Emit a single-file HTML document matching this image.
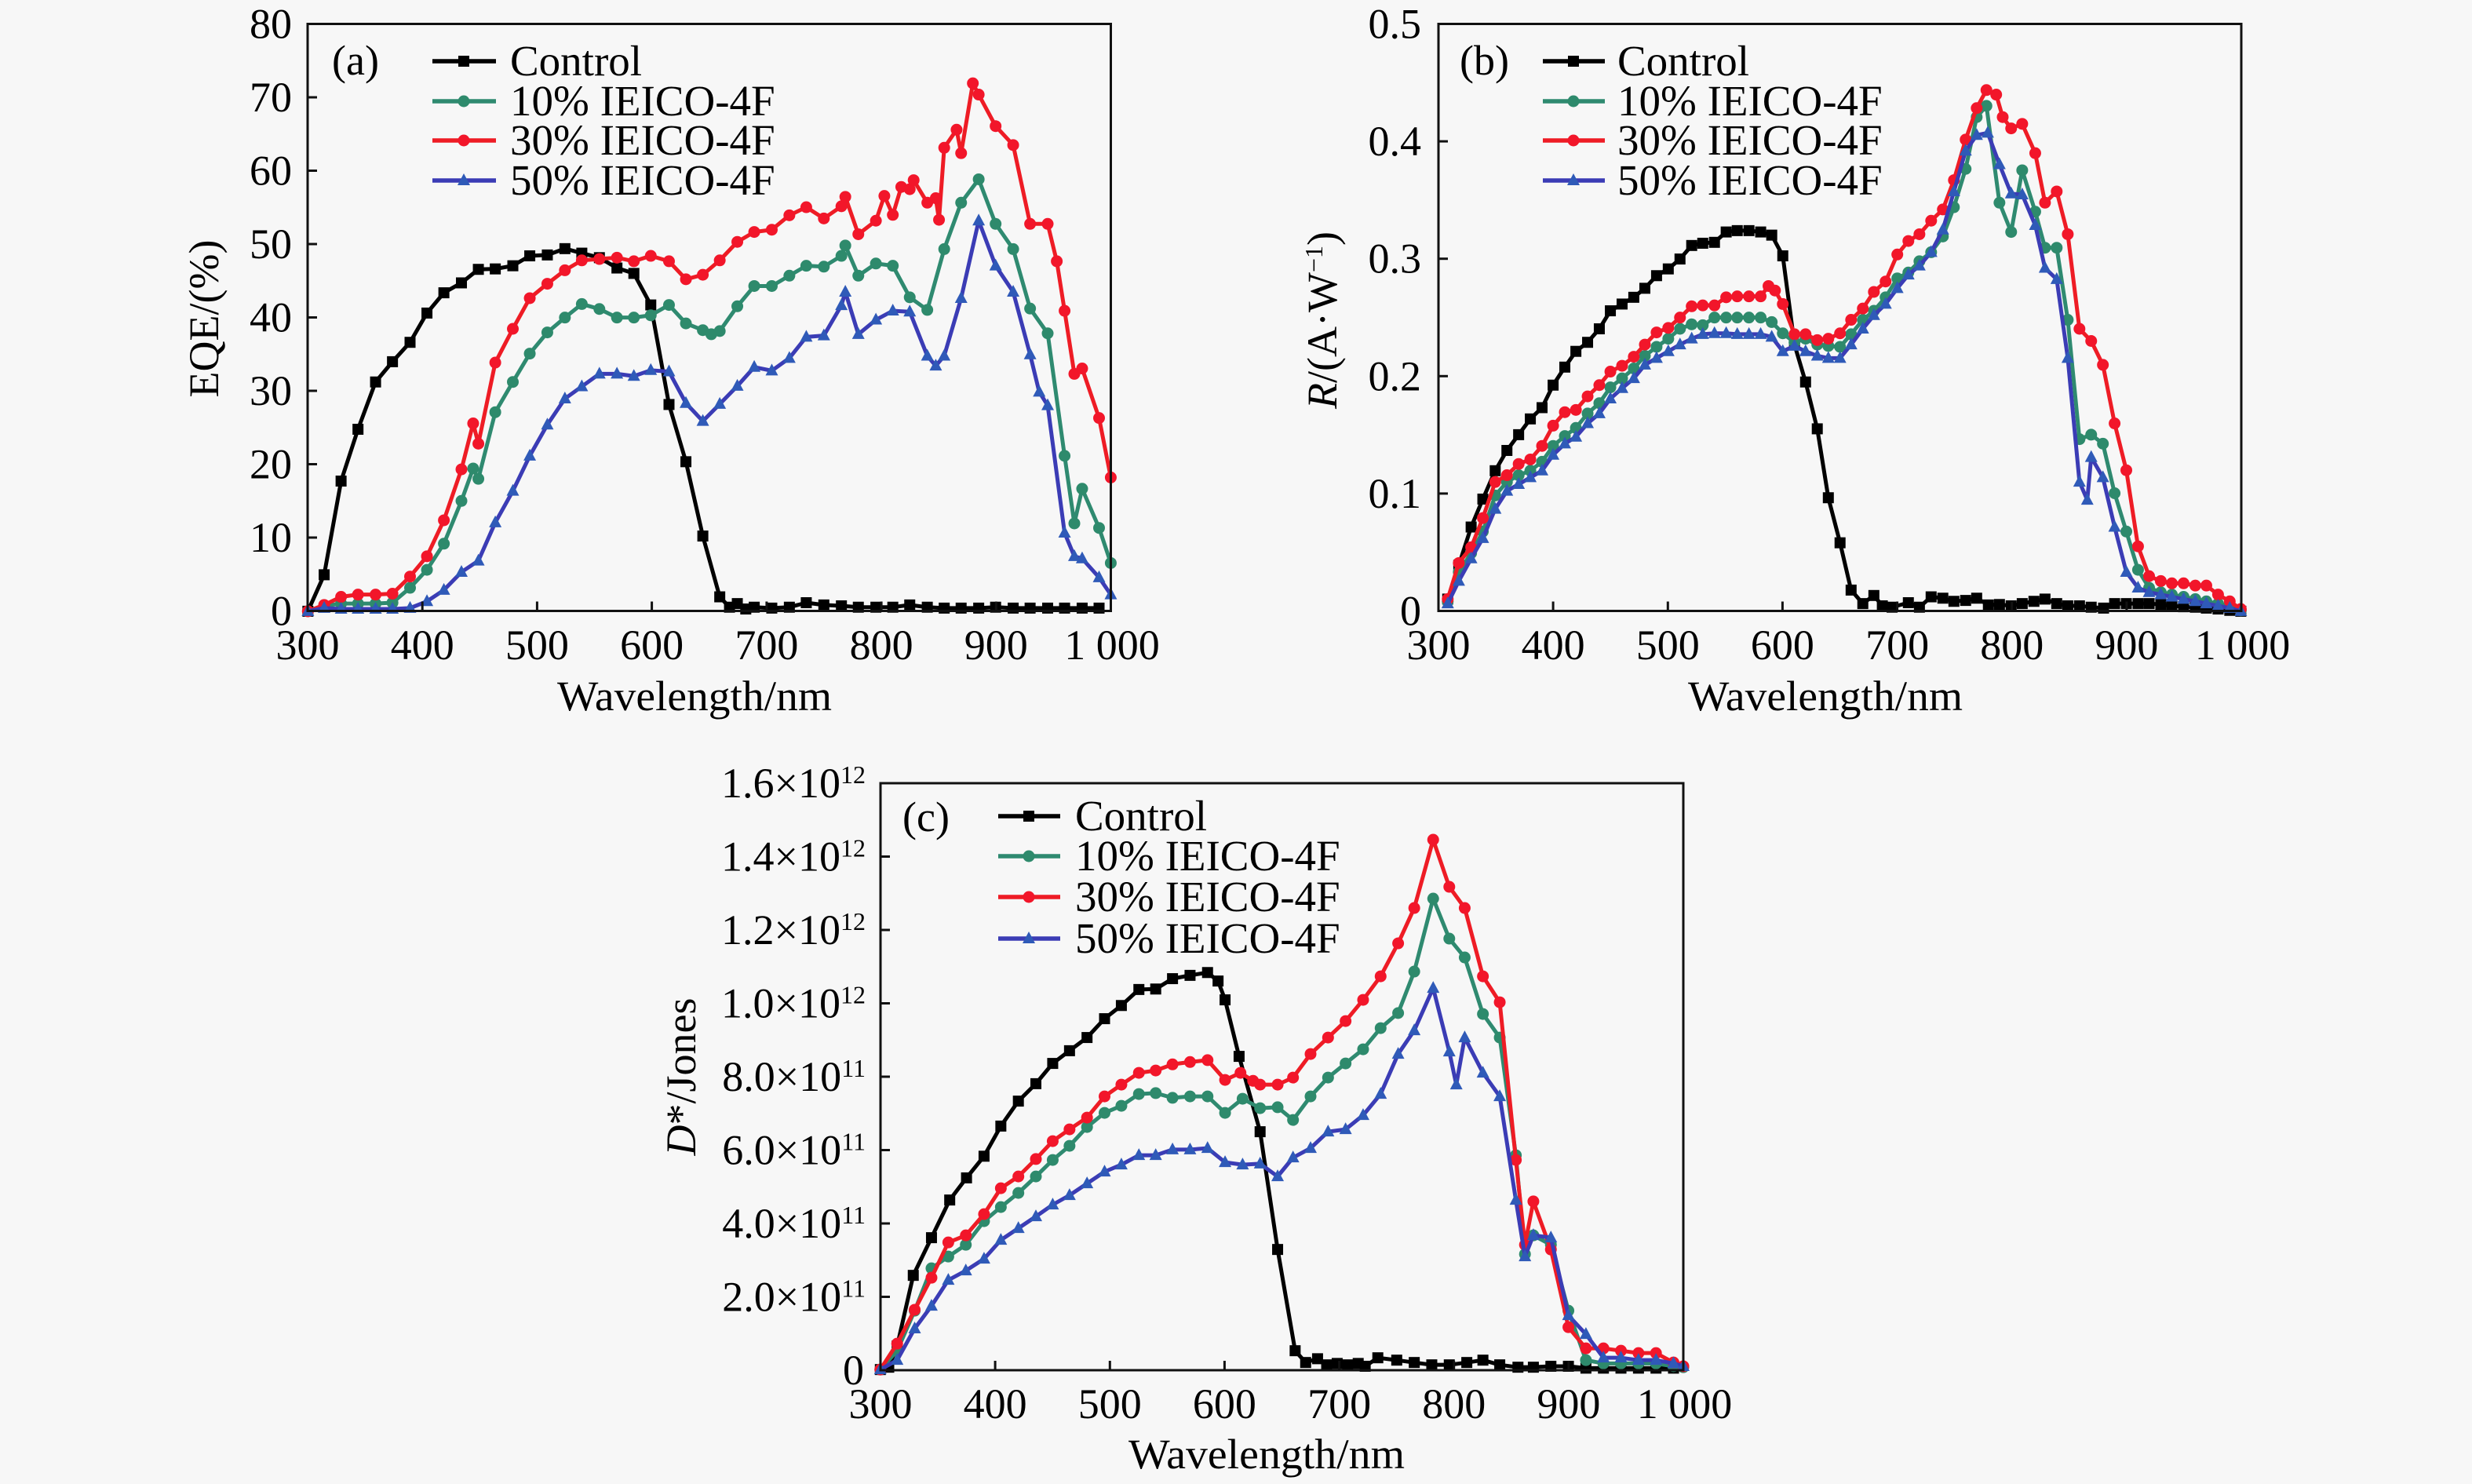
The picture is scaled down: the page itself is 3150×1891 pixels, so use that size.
<!DOCTYPE html>
<html>
<head>
<meta charset="utf-8">
<style>
html,body{margin:0;padding:0;background:#f7f7f7;}
svg{display:block;}
text{font-family:"Liberation Serif","Times New Roman",serif;fill:#000;}
marker{overflow:visible;}
.ln{fill:none;stroke-width:5;stroke-linejoin:round;vector-effect:non-scaling-stroke;}
.ax{fill:none;stroke:#111;stroke-width:3;}
.tk{stroke:#111;stroke-width:3;}
</style>
</head>
<body>
<svg width="3150" height="1891" viewBox="0 0 3150 1891" xmlns="http://www.w3.org/2000/svg">
<rect x="0" y="0" width="3150" height="1891" fill="#f7f7f7"/>
<defs>
  <marker id="sqA" markerUnits="userSpaceOnUse" markerWidth="1" markerHeight="1" refX="0" refY="0" overflow="visible"><g transform="scale(1.20615,1.74222)"><rect x="-7" y="-7" width="14" height="14" fill="#000"/></g></marker>
  <marker id="ciTA" markerUnits="userSpaceOnUse" markerWidth="1" markerHeight="1" refX="0" refY="0" overflow="visible"><g transform="scale(1.20615,1.74222)"><circle r="7.5" fill="#2e8a6c"/></g></marker>
  <marker id="ciRA" markerUnits="userSpaceOnUse" markerWidth="1" markerHeight="1" refX="0" refY="0" overflow="visible"><g transform="scale(1.20615,1.74222)"><circle r="7.5" fill="#f2162a"/></g></marker>
  <marker id="trA" markerUnits="userSpaceOnUse" markerWidth="1" markerHeight="1" refX="0" refY="0" overflow="visible"><g transform="scale(1.20615,1.74222)"><polygon points="0,-9 8,6 -8,6" fill="#2f5ab8"/></g></marker>
  <marker id="sqC" markerUnits="userSpaceOnUse" markerWidth="1" markerHeight="1" refX="0" refY="0" overflow="visible"><g transform="scale(1.12,1.66631)"><rect x="-7" y="-7" width="14" height="14" fill="#000"/></g></marker>
  <marker id="ciTC" markerUnits="userSpaceOnUse" markerWidth="1" markerHeight="1" refX="0" refY="0" overflow="visible"><g transform="scale(1.12,1.66631)"><circle r="7.5" fill="#2e8a6c"/></g></marker>
  <marker id="ciRC" markerUnits="userSpaceOnUse" markerWidth="1" markerHeight="1" refX="0" refY="0" overflow="visible"><g transform="scale(1.12,1.66631)"><circle r="7.5" fill="#f2162a"/></g></marker>
  <marker id="trC" markerUnits="userSpaceOnUse" markerWidth="1" markerHeight="1" refX="0" refY="0" overflow="visible"><g transform="scale(1.12,1.66631)"><polygon points="0,-9 8,6 -8,6" fill="#2f5ab8"/></g></marker>
</defs>

<!-- ================= PANEL A ================= -->
<g transform="matrix(0.82908,0,0,0.57398,200,0)">
<polyline class="ln" stroke="#000" marker-start="url(#sqA)" marker-mid="url(#sqA)" marker-end="url(#sqA)" points="232,1357 257,1276 283,1068 309,953 336,848 362,803 389,760 415,695 441,650 468,628 494,598 520,597 547,590 573,568 600,566 627,552 653,562 680,572 707,595 733,607 759,677 787,898 813,1025 839,1190 865,1325 880,1348 892,1340 905,1352 918,1348 945,1350 972,1348 998,1338 1025,1343 1052,1345 1078,1348 1105,1348 1131,1348 1157,1343 1184,1348 1210,1350 1236,1350 1263,1350 1289,1348 1316,1350 1342,1350 1369,1350 1395,1350 1422,1350 1448,1350"/>
<polyline class="ln" stroke="#2f8a70" marker-start="url(#ciTA)" marker-mid="url(#ciTA)" marker-end="url(#ciTA)" points="232,1357 257,1345 283,1340 309,1340 336,1340 362,1338 389,1305 415,1265 441,1207 468,1112 486,1040 494,1063 520,915 547,848 573,785 600,738 627,705 653,675 680,686 707,705 733,705 759,700 787,677 813,718 839,733 852,742 865,735 892,680 918,635 945,635 972,612 998,590 1025,592 1052,568 1058,545 1078,612 1105,585 1131,590 1157,660 1184,688 1210,553 1236,450 1263,398 1289,497 1316,553 1342,685 1369,740 1395,1012 1410,1162 1422,1085 1448,1172 1466,1250"/>
<polyline class="ln" stroke="#ee1c25" marker-start="url(#ciRA)" marker-mid="url(#ciRA)" marker-end="url(#ciRA)" points="232,1357 257,1343 283,1325 309,1320 336,1320 362,1318 389,1280 415,1235 441,1155 468,1042 486,940 494,985 520,805 547,730 573,662 600,630 627,600 653,578 680,575 707,572 733,580 759,568 787,580 813,620 839,610 865,578 892,537 918,515 945,510 972,478 998,460 1025,485 1052,458 1058,437 1078,520 1105,490 1118,435 1131,477 1144,415 1157,420 1163,400 1184,450 1197,440 1202,488 1210,328 1229,288 1236,340 1254,185 1263,210 1289,280 1316,322 1342,497 1369,497 1383,580 1395,690 1410,830 1422,818 1448,928 1466,1060"/>
<polyline class="ln" stroke="#3b3cb5" marker-start="url(#trA)" marker-mid="url(#trA)" marker-end="url(#trA)" points="232,1357 257,1350 283,1352 309,1352 336,1352 362,1352 389,1350 415,1335 441,1310 468,1270 494,1245 520,1160 547,1090 573,1012 600,943 627,885 653,858 680,830 707,830 733,835 759,822 787,825 813,895 839,935 865,897 892,857 918,815 945,823 972,795 998,748 1025,745 1052,678 1058,648 1078,742 1105,710 1131,690 1157,692 1184,790 1197,812 1210,790 1236,662 1263,490 1289,590 1316,648 1342,787 1356,870 1369,900 1395,1183 1410,1235 1422,1240 1448,1282 1466,1320"/>
</g>
<rect class="ax" x="392" y="30.5" width="1023.5" height="748"/>
<g class="tk">
  <line x1="538.2" y1="778.5" x2="538.2" y2="766.5"/><line x1="684.4" y1="778.5" x2="684.4" y2="766.5"/><line x1="830.6" y1="778.5" x2="830.6" y2="766.5"/><line x1="976.9" y1="778.5" x2="976.9" y2="766.5"/><line x1="1123.1" y1="778.5" x2="1123.1" y2="766.5"/><line x1="1269.3" y1="778.5" x2="1269.3" y2="766.5"/>
  <line x1="392" y1="685" x2="404" y2="685"/><line x1="392" y1="591.5" x2="404" y2="591.5"/><line x1="392" y1="498" x2="404" y2="498"/><line x1="392" y1="404.5" x2="404" y2="404.5"/><line x1="392" y1="311" x2="404" y2="311"/><line x1="392" y1="217.5" x2="404" y2="217.5"/><line x1="392" y1="124" x2="404" y2="124"/>
</g>
<g font-size="54" text-anchor="end">
  <text x="372" y="796.5">0</text><text x="372" y="703">10</text><text x="372" y="609.5">20</text><text x="372" y="516">30</text><text x="372" y="422.5">40</text><text x="372" y="329">50</text><text x="372" y="235.5">60</text><text x="372" y="142">70</text><text x="372" y="48.5">80</text>
</g>
<g font-size="54" text-anchor="middle">
  <text x="392" y="840">300</text><text x="538.2" y="840">400</text><text x="684.4" y="840">500</text><text x="830.6" y="840">600</text><text x="976.9" y="840">700</text><text x="1123.1" y="840">800</text><text x="1269.3" y="840">900</text><text x="1417" y="840">1 000</text>
</g>
<text x="710" y="905" font-size="54" textLength="350" lengthAdjust="spacingAndGlyphs">Wavelength/nm</text>
<text transform="translate(278,406) rotate(-90)" font-size="54" text-anchor="middle">EQE/(%)</text>
<text x="423" y="95" font-size="54">(a)</text>
<g>
  <line x1="551" y1="78" x2="632" y2="78" stroke="#000" stroke-width="5.5"/><rect x="584" y="71" width="14" height="14" fill="#000"/>
  <line x1="551" y1="129" x2="632" y2="129" stroke="#2f8a70" stroke-width="5.5"/><circle cx="591" cy="129" r="7.5" fill="#2e8a6c"/>
  <line x1="551" y1="179" x2="632" y2="179" stroke="#ee1c25" stroke-width="5.5"/><circle cx="591" cy="179" r="7.5" fill="#f2162a"/>
  <line x1="551" y1="230" x2="632" y2="230" stroke="#3b3cb5" stroke-width="5.5"/><polygon points="591,221 599,236 583,236" fill="#2f5ab8"/>
</g>
<g font-size="55">
  <text x="650" y="96">Control</text><text x="650" y="147">10% IEICO-4F</text><text x="650" y="197">30% IEICO-4F</text><text x="650" y="248">50% IEICO-4F</text>
</g>

<!-- ================= PANEL B ================= -->
<g transform="matrix(0.82908,0,0,0.57398,1640,0)">
<polyline class="ln" stroke="#000" marker-start="url(#sqA)" marker-mid="url(#sqA)" marker-end="url(#sqA)" points="247,1330 264,1255 283,1170 301,1108 320,1045 338,1000 356,965 374,930 392,905 409,855 427,815 444,780 462,760 480,730 497,690 515,675 533,660 550,640 568,612 586,597 604,575 622,545 639,540 657,538 675,515 692,512 710,512 728,515 745,522 762,568 780,765 797,848 815,952 832,1105 850,1205 867,1310 885,1340 902,1322 915,1345 930,1348 955,1338 972,1348 990,1325 1008,1328 1025,1335 1043,1333 1060,1328 1078,1343 1095,1342 1113,1345 1130,1340 1148,1335 1165,1330 1183,1340 1200,1345 1218,1345 1236,1348 1255,1350 1272,1340 1290,1340 1308,1340 1325,1340 1343,1342 1360,1345 1378,1347 1396,1348 1413,1350 1431,1352 1449,1355 1466,1357"/>
<polyline class="ln" stroke="#2f8a70" marker-start="url(#ciTA)" marker-mid="url(#ciTA)" marker-end="url(#ciTA)" points="247,1335 264,1270 283,1228 301,1180 320,1100 338,1070 356,1055 374,1045 392,1025 409,990 427,968 444,950 462,918 480,895 497,860 515,840 533,818 550,790 568,770 586,752 604,730 622,720 639,722 657,705 675,705 692,705 710,705 728,705 745,715 762,740 780,760 797,752 815,765 832,768 850,770 867,742 885,710 902,690 920,660 938,618 955,605 972,580 990,560 1008,525 1025,460 1043,375 1060,260 1075,235 1095,450 1113,515 1130,378 1150,470 1165,550 1183,550 1200,710 1218,975 1236,965 1254,985 1272,1095 1290,1180 1308,1265 1325,1305 1343,1315 1360,1320 1378,1325 1396,1330 1413,1335 1431,1340 1449,1345 1466,1355"/>
<polyline class="ln" stroke="#ee1c25" marker-start="url(#ciRA)" marker-mid="url(#ciRA)" marker-end="url(#ciRA)" points="247,1330 264,1250 283,1215 301,1150 320,1070 338,1055 356,1030 374,1020 392,990 409,945 427,915 444,910 462,880 480,855 497,825 515,812 533,792 550,765 568,738 586,728 604,705 622,680 639,678 657,678 675,660 692,658 710,658 728,658 740,635 750,645 762,675 780,742 797,742 815,755 832,752 850,740 867,710 885,685 902,648 920,625 938,565 955,535 972,520 990,490 1008,465 1025,400 1043,310 1060,240 1075,200 1090,210 1100,260 1113,285 1130,275 1150,340 1165,450 1183,425 1200,520 1218,730 1236,757 1254,810 1272,940 1290,1044 1308,1213 1325,1279 1343,1290 1360,1295 1378,1295 1396,1300 1413,1300 1431,1320 1449,1335 1466,1352"/>
<polyline class="ln" stroke="#3b3cb5" marker-start="url(#trA)" marker-mid="url(#trA)" marker-end="url(#trA)" points="247,1340 264,1290 283,1240 301,1195 320,1130 338,1090 356,1075 374,1060 392,1045 409,1010 427,985 444,970 462,940 480,918 497,885 515,862 533,840 550,810 568,795 586,780 604,765 622,752 639,742 657,740 675,740 692,742 710,742 728,742 745,748 762,780 780,768 797,780 815,790 832,795 850,795 867,765 885,730 902,700 920,675 938,640 955,610 972,590 990,560 1008,510 1025,425 1043,335 1060,300 1077,295 1095,365 1113,430 1130,432 1150,500 1165,595 1183,620 1200,795 1218,1070 1230,1110 1236,1015 1254,1060 1272,1170 1290,1270 1308,1305 1325,1315 1343,1320 1360,1325 1378,1330 1396,1335 1413,1340 1431,1345 1449,1350 1466,1357"/>
</g>
<rect class="ax" x="1833" y="30.5" width="1023" height="748"/>
<g class="tk">
  <line x1="1979.1" y1="778.5" x2="1979.1" y2="766.5"/><line x1="2125.3" y1="778.5" x2="2125.3" y2="766.5"/><line x1="2271.4" y1="778.5" x2="2271.4" y2="766.5"/><line x1="2417.6" y1="778.5" x2="2417.6" y2="766.5"/><line x1="2563.7" y1="778.5" x2="2563.7" y2="766.5"/><line x1="2709.9" y1="778.5" x2="2709.9" y2="766.5"/>
  <line x1="1833" y1="628.9" x2="1845" y2="628.9"/><line x1="1833" y1="479.3" x2="1845" y2="479.3"/><line x1="1833" y1="329.7" x2="1845" y2="329.7"/><line x1="1833" y1="180.1" x2="1845" y2="180.1"/>
</g>
<g font-size="54" text-anchor="end">
  <text x="1811" y="796.5">0</text><text x="1811" y="646.9">0.1</text><text x="1811" y="497.3">0.2</text><text x="1811" y="347.7">0.3</text><text x="1811" y="198.1">0.4</text><text x="1811" y="48.5">0.5</text>
</g>
<g font-size="54" text-anchor="middle">
  <text x="1833" y="840">300</text><text x="1979.1" y="840">400</text><text x="2125.3" y="840">500</text><text x="2271.4" y="840">600</text><text x="2417.6" y="840">700</text><text x="2563.7" y="840">800</text><text x="2709.9" y="840">900</text><text x="2857.5" y="840">1 000</text>
</g>
<text x="2151" y="905" font-size="54" textLength="350" lengthAdjust="spacingAndGlyphs">Wavelength/nm</text>
<text transform="translate(1703,408) rotate(-90)" font-size="54" text-anchor="middle"><tspan font-style="italic">R</tspan>/(A·W<tspan dy="-18" font-size="32">−1</tspan><tspan dy="18">)</tspan></text>
<text x="1860" y="95" font-size="54">(b)</text>
<g>
  <line x1="1966" y1="78" x2="2045" y2="78" stroke="#000" stroke-width="5.5"/><rect x="1998" y="71" width="14" height="14" fill="#000"/>
  <line x1="1966" y1="129" x2="2045" y2="129" stroke="#2f8a70" stroke-width="5.5"/><circle cx="2005" cy="129" r="7.5" fill="#2e8a6c"/>
  <line x1="1966" y1="179" x2="2045" y2="179" stroke="#ee1c25" stroke-width="5.5"/><circle cx="2005" cy="179" r="7.5" fill="#f2162a"/>
  <line x1="1966" y1="230" x2="2045" y2="230" stroke="#3b3cb5" stroke-width="5.5"/><polygon points="2005,221 2013,236 1997,236" fill="#2f5ab8"/>
</g>
<g font-size="55">
  <text x="2061" y="96">Control</text><text x="2061" y="147">10% IEICO-4F</text><text x="2061" y="197">30% IEICO-4F</text><text x="2061" y="248">50% IEICO-4F</text>
</g>

<!-- ================= PANEL C ================= -->
<g transform="matrix(0.89286,0,0,0.60013,820,950)">
<polyline class="ln" stroke="#000" marker-start="url(#sqC)" marker-mid="url(#sqC)" marker-end="url(#sqC)" points="338,1325 350,1320 362,1275 385,1125 411,1045 437,965 461,918 486,872 510,808 535,755 560,718 584,675 608,648 633,620 658,580 682,552 707,518 731,517 755,495 780,488 805,482 820,500 830,540 850,660 880,820 905,1070 930,1285 945,1310 962,1302 975,1315 990,1312 1005,1315 1020,1312 1030,1318 1048,1300 1075,1305 1100,1310 1125,1315 1150,1315 1175,1310 1198,1305 1222,1315 1248,1320 1270,1320 1295,1318 1320,1318 1345,1322 1370,1322 1395,1322 1420,1322 1445,1322 1470,1322"/>
<polyline class="ln" stroke="#2f8a70" marker-start="url(#ciTC)" marker-mid="url(#ciTC)" marker-end="url(#ciTC)" points="338,1325 362,1285 387,1200 411,1110 435,1085 460,1060 486,1010 510,980 535,950 560,915 584,880 608,850 633,810 658,780 682,765 707,740 731,738 755,748 780,745 805,745 830,780 855,750 880,770 905,768 927,795 952,745 977,705 1002,675 1027,645 1052,600 1077,568 1100,480 1127,325 1150,410 1172,450 1198,570 1222,620 1245,870 1258,1080 1270,1040 1295,1060 1320,1200 1345,1305 1370,1312 1395,1312 1420,1312 1445,1312 1470,1318 1484,1320"/>
<polyline class="ln" stroke="#ee1c25" marker-start="url(#ciRC)" marker-mid="url(#ciRC)" marker-end="url(#ciRC)" points="338,1325 362,1270 387,1198 411,1130 435,1055 460,1040 486,995 510,940 535,915 560,878 584,840 608,815 633,790 658,745 682,720 707,695 731,690 755,677 780,672 805,668 830,710 852,695 870,712 880,720 905,720 927,705 952,655 977,620 1002,585 1027,540 1052,490 1077,420 1100,345 1127,200 1150,300 1172,345 1198,490 1222,545 1245,880 1258,1060 1270,968 1295,1070 1320,1235 1345,1280 1370,1280 1395,1285 1420,1290 1445,1290 1470,1310 1484,1318"/>
<polyline class="ln" stroke="#3b3cb5" marker-start="url(#trC)" marker-mid="url(#trC)" marker-end="url(#trC)" points="338,1325 362,1305 387,1238 411,1190 435,1135 460,1115 486,1090 510,1050 535,1025 560,1000 584,975 608,955 633,930 658,905 682,890 707,870 731,870 755,858 780,858 805,855 830,885 855,890 880,888 905,915 927,875 952,855 977,820 1002,815 1027,785 1052,740 1077,655 1100,605 1127,515 1150,650 1160,720 1172,620 1198,695 1222,745 1245,965 1258,1085 1270,1040 1295,1045 1320,1210 1345,1250 1370,1300 1395,1300 1420,1305 1445,1305 1470,1312 1484,1318"/>
</g>
<rect class="ax" x="1122" y="998" width="1023" height="748"/>
<g class="tk">
  <line x1="1268.1" y1="1746" x2="1268.1" y2="1734"/><line x1="1414.3" y1="1746" x2="1414.3" y2="1734"/><line x1="1560.4" y1="1746" x2="1560.4" y2="1734"/><line x1="1706.6" y1="1746" x2="1706.6" y2="1734"/><line x1="1852.7" y1="1746" x2="1852.7" y2="1734"/><line x1="1998.9" y1="1746" x2="1998.9" y2="1734"/>
  <line x1="1122" y1="1652.5" x2="1134" y2="1652.5"/><line x1="1122" y1="1559" x2="1134" y2="1559"/><line x1="1122" y1="1465.5" x2="1134" y2="1465.5"/><line x1="1122" y1="1372" x2="1134" y2="1372"/><line x1="1122" y1="1278.5" x2="1134" y2="1278.5"/><line x1="1122" y1="1185" x2="1134" y2="1185"/><line x1="1122" y1="1091.5" x2="1134" y2="1091.5"/>
</g>
<g font-size="54" text-anchor="end">
  <text x="1101" y="1764">0</text>
  <text x="1103" y="1670.5">2.0×10<tspan dy="-18" font-size="32">11</tspan></text>
  <text x="1103" y="1577">4.0×10<tspan dy="-18" font-size="32">11</tspan></text>
  <text x="1103" y="1483.5">6.0×10<tspan dy="-18" font-size="32">11</tspan></text>
  <text x="1103" y="1390">8.0×10<tspan dy="-18" font-size="32">11</tspan></text>
  <text x="1103" y="1296.5">1.0×10<tspan dy="-18" font-size="32">12</tspan></text>
  <text x="1103" y="1203">1.2×10<tspan dy="-18" font-size="32">12</tspan></text>
  <text x="1103" y="1109.5">1.4×10<tspan dy="-18" font-size="32">12</tspan></text>
  <text x="1103" y="1016">1.6×10<tspan dy="-18" font-size="32">12</tspan></text>
</g>
<g font-size="54" text-anchor="middle">
  <text x="1122" y="1807">300</text><text x="1268.1" y="1807">400</text><text x="1414.3" y="1807">500</text><text x="1560.4" y="1807">600</text><text x="1706.6" y="1807">700</text><text x="1852.7" y="1807">800</text><text x="1998.9" y="1807">900</text><text x="2146.5" y="1807">1 000</text>
</g>
<text x="1438" y="1871" font-size="54" textLength="352" lengthAdjust="spacingAndGlyphs">Wavelength/nm</text>
<text transform="translate(886,1372) rotate(-90)" font-size="54" text-anchor="middle"><tspan font-style="italic">D</tspan>*/Jones</text>
<text x="1150" y="1059" font-size="54">(c)</text>
<g>
  <line x1="1272" y1="1040" x2="1351" y2="1040" stroke="#000" stroke-width="5.5"/><rect x="1304" y="1033" width="14" height="14" fill="#000"/>
  <line x1="1272" y1="1091" x2="1351" y2="1091" stroke="#2f8a70" stroke-width="5.5"/><circle cx="1311" cy="1091" r="7.5" fill="#2e8a6c"/>
  <line x1="1272" y1="1143" x2="1351" y2="1143" stroke="#ee1c25" stroke-width="5.5"/><circle cx="1311" cy="1143" r="7.5" fill="#f2162a"/>
  <line x1="1272" y1="1196" x2="1351" y2="1196" stroke="#3b3cb5" stroke-width="5.5"/><polygon points="1311,1187 1319,1202 1303,1202" fill="#2f5ab8"/>
</g>
<g font-size="55">
  <text x="1370" y="1058">Control</text><text x="1370" y="1109">10% IEICO-4F</text><text x="1370" y="1161">30% IEICO-4F</text><text x="1370" y="1214">50% IEICO-4F</text>
</g>
</svg>
</body>
</html>
